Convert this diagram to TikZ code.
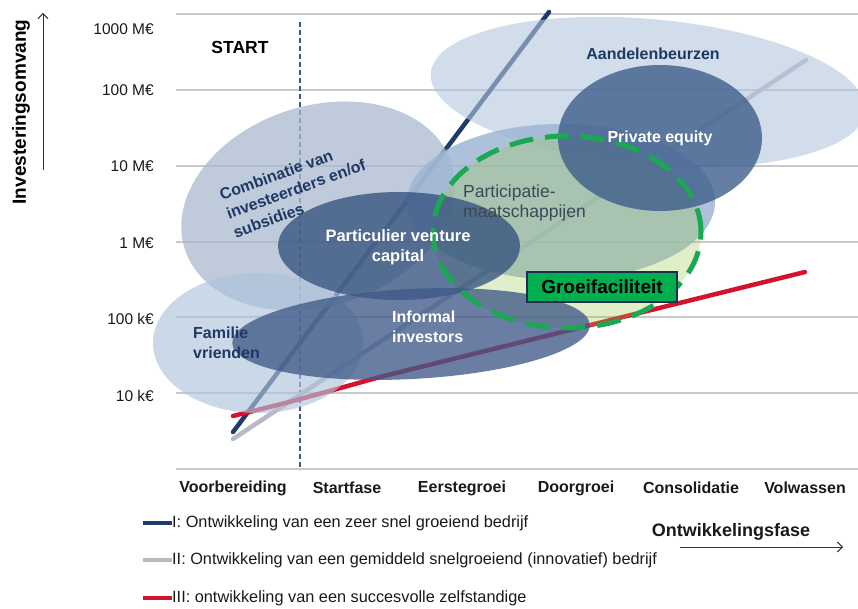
\documentclass[tikz,border=0pt]{standalone}
\usepackage{fontspec}
\setmainfont{Liberation Sans}
\usetikzlibrary{arrows.meta}
\definecolor{navy}{HTML}{1F3864}
\definecolor{gridc}{HTML}{C9C9C9}
\definecolor{lineI}{HTML}{1F3B6B}
\definecolor{lineII}{HTML}{B6BAC4}
\definecolor{lineIII}{HTML}{D4122D}
\definecolor{ellLight}{HTML}{B3C6DC}
\definecolor{ellComb}{HTML}{A9B9CF}
\definecolor{ellFam}{HTML}{AEC3DA}
\definecolor{ellPart}{HTML}{9FB7D3}
\definecolor{ellDark}{HTML}{34517F}
\definecolor{ellInf}{HTML}{3F5A88}
\definecolor{ellPE}{HTML}{3F5E8C}
\definecolor{groen}{HTML}{9DC850}
\definecolor{groenrand}{HTML}{1AA852}
\definecolor{boxgreen}{HTML}{00B050}
\definecolor{boxedge}{HTML}{1F2D50}
\definecolor{parttext}{HTML}{3B4858}
\definecolor{dashv}{HTML}{3C5A82}
\tikzset{
  gridline/.style={draw=gridc, line width=1.5pt},
  curve/.style={line width=4.5pt, line cap=round},
  ticklabel/.style={anchor=east, inner sep=0pt, text=black!90, font=\fontsize{15.5}{18}\selectfont},
  phase/.style={inner sep=0pt, text=black!90, font=\bfseries\fontsize{16}{19}\selectfont},
  legendtext/.style={anchor=west, inner sep=0pt, text=black!90, font=\fontsize{16.3}{19}\selectfont},
  ellabel/.style={inner sep=0pt, font=\bfseries\fontsize{16}{19.5}\selectfont},
  axisarrow/.style={draw=black!80, line width=1pt, -{Straight Barb[length=5pt,width=10pt]}}
}
\begin{document}
\begin{tikzpicture}[x=1pt,y=-1pt]
\useasboundingbox (0,0) rectangle (858,609);
% grid
\foreach \yy in {14,90,166,242,317,393,469} \draw[gridline] (176,\yy) -- (858,\yy);
% vertical dashed line
\coordinate (dtop) at (300,22);
\coordinate (dbot) at (300,470);
\draw[dashv, line width=1.2pt, dash pattern=on 5pt off 3pt] (dtop) -- (dbot);
% development curves
\coordinate (Ia) at (233,432); \coordinate (Ib) at (549,12);
\coordinate (IIa) at (233,439); \coordinate (IIb) at (806,60);
\coordinate (IIIa) at (233,416); \coordinate (IIIb) at (805,272);
\draw[curve, lineI] (Ia) -- (Ib);
\draw[curve, lineII] (IIa) -- (IIb);
\draw[curve, lineIII] (IIIa) .. controls (290,402) .. (380,377) -- (IIIb);
% ellipses
\fill[ellLight, opacity=0.6, rotate around={-5:(648,92)}] (648,92) ellipse [x radius=218pt, y radius=73pt];
\fill[ellComb, opacity=0.75, rotate around={18:(318,206)}] (318,206) ellipse [x radius=140pt, y radius=100pt];
\fill[ellFam, opacity=0.65] (258,343) ellipse [x radius=105pt, y radius=70pt];
\fill[ellPart, opacity=0.85] (561,202) ellipse [x radius=154pt, y radius=78pt];
\fill[groen, opacity=0.3] (567,232) ellipse [x radius=134pt, y radius=96pt];
\fill[ellDark, opacity=0.78] (399,246) ellipse [x radius=121pt, y radius=54pt];
\fill[ellInf, opacity=0.78, rotate around={3:(411,334)}] (411,334) ellipse [x radius=179pt, y radius=45pt];
\fill[ellPE, opacity=0.8] (660,138) ellipse [x radius=102pt, y radius=73pt];
\draw[groenrand, line width=5pt, dash pattern=on 24pt off 12pt] (567,232) ellipse [x radius=134pt, y radius=96pt];
% box
\node[draw=boxedge, line width=1.5pt, fill=boxgreen, minimum width=150pt, minimum height=30pt, inner sep=0pt, text=black, font=\bfseries\fontsize{19}{22}\selectfont] (groei) at (602,287) {Groeifaciliteit};
% ellipse labels
\node[ellabel, text=navy] (aand) at (653,54) {Aandelenbeurzen};
\node[ellabel, text=white] (pe) at (660,138) {Private equity};
\node[inner sep=0pt, anchor=west, align=left, text=parttext, font=\fontsize{17.5}{20}\selectfont] (part) at (463,203) {Participatie-\\maatschappijen};
\node[ellabel, text=white, align=center, font=\bfseries\fontsize{16.5}{19.5}\selectfont] (pvc) at (398,247) {Particulier venture\\capital};
\node[ellabel, text=white, anchor=west, align=left] (inf) at (392,327) {Informal\\investors};
\node[ellabel, text=navy, anchor=west, align=left, font=\bfseries\fontsize{16}{20}\selectfont] (fam) at (193,343) {Familie\\vrienden};
\node[ellabel, text=navy, align=left, rotate=20, font=\bfseries\fontsize{16}{20}\selectfont] (comb) at (296,189) {Combinatie van\\investeerders en/of\\subsidies};
\node[inner sep=0pt, text=black, font=\bfseries\fontsize{17.5}{20}\selectfont] (start) at (240,47) {START};
% y axis
\node[ticklabel] (t1) at (154,29) {1000 M€};
\node[ticklabel] (t2) at (154,90) {100 M€};
\node[ticklabel] (t3) at (154,166) {10 M€};
\node[ticklabel] (t4) at (154,243) {1 M€};
\node[ticklabel] (t5) at (154,319) {100 k€};
\node[ticklabel] (t6) at (154,396) {10 k€};
\node[inner sep=0pt, rotate=90, text=black, font=\bfseries\fontsize{19}{22}\selectfont] (ylab) at (21,112) {Investeringsomvang};
\coordinate (yaS) at (43,170);
\coordinate (yaE) at (43,13);
\draw[axisarrow] (yaS) -- (yaE);
% x axis
\node[phase] (p1) at (233,488) {Voorbereiding};
\node[phase] (p2) at (347,488) {Startfase};
\node[phase] (p3) at (462,488) {Eerstegroei};
\node[phase] (p4) at (576,488) {Doorgroei};
\node[phase] (p5) at (691,488) {Consolidatie};
\node[phase] (p6) at (805,488) {Volwassen};
\node[inner sep=0pt, text=black!90, font=\bfseries\fontsize{18}{21}\selectfont] (xlab) at (731,532) {Ontwikkelingsfase};
\coordinate (xaS) at (680,547);
\coordinate (xaE) at (843,547);
\draw[axisarrow] (xaS) -- (xaE);
% legend
\coordinate (l1a) at (143,523); \coordinate (l1b) at (172,523);
\coordinate (l2a) at (143,560); \coordinate (l2b) at (172,560);
\coordinate (l3a) at (143,598); \coordinate (l3b) at (172,598);
\draw[lineI, line width=4pt] (l1a) -- (l1b);
\draw[lineII, line width=4pt] (l2a) -- (l2b);
\draw[lineIII, line width=4pt] (l3a) -- (l3b);
\node[legendtext] (lg1) at (l1b) {I: Ontwikkeling van een zeer snel groeiend bedrijf};
\node[legendtext] (lg2) at (l2b) {II: Ontwikkeling van een gemiddeld snelgroeiend (innovatief) bedrijf};
\node[legendtext] (lg3) at (l3b) {III: ontwikkeling van een succesvolle zelfstandige};
\end{tikzpicture}
\end{document}
